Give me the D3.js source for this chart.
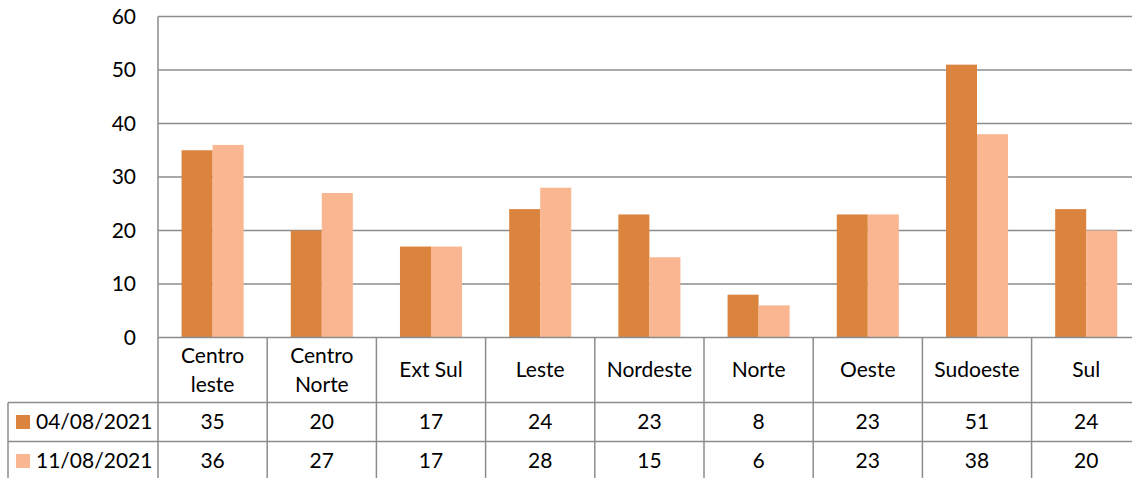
<!DOCTYPE html>
<html>
<head>
<meta charset="utf-8">
<script src="https://cdn.jsdelivr.net/npm/d3@7"></script>
<style>
  html, body { margin: 0; padding: 0; background: #fff; }
  svg { display: block; font-family: Lato, "Open Sans", sans-serif; }
</style>
</head>
<body>
<div id="chart"></div>
<script>
const categories = [["Centro", "leste"], ["Centro", "Norte"], ["Ext Sul"], ["Leste"], ["Nordeste"], ["Norte"], ["Oeste"], ["Sudoeste"], ["Sul"]];
const seriesNames = ["04/08/2021", "11/08/2021"];
const values0408 = [35, 20, 17, 24, 23, 8, 23, 51, 24];
const values1108 = [36, 27, 17, 28, 15, 6, 23, 38, 20];
const yTicks = [0, 10, 20, 30, 40, 50, 60];
const colors = ["#DA843E", "#F9B690"];

const width = 1132, height = 478;
const plotLeft = 158, plotTop = 16.5, zeroY = 337.5;
const catW = 109.2;
const rowH = [65, 39, 39];
const gridColor = "#8c8c8c";

const svg = d3.select("#chart").append("svg")
    .attr("width", width)
    .attr("height", height);

const keys = categories.map(c => c.join(" "));
const series = [values0408, values1108];

const x = d3.scaleBand()
    .domain(keys)
    .range([plotLeft, plotLeft + catW * keys.length])
    .paddingInner(0).paddingOuter(0);

const xs = d3.scaleBand()
    .domain(seriesNames)
    .range([0, x.bandwidth()])
    .paddingInner(0).paddingOuter(0.76);

const y = d3.scaleLinear().domain([0, 60]).range([zeroY, plotTop]);

// Gridlines
svg.append("g").selectAll("line")
    .data(yTicks.filter(t => t > 0))
    .enter().append("line")
    .attr("x1", plotLeft).attr("x2", width)
    .attr("y1", d => y(d)).attr("y2", d => y(d))
    .style("stroke", gridColor).style("stroke-width", 1.5);

// Y tick labels
svg.append("g").selectAll("text")
    .data(yTicks)
    .enter().append("text")
    .attr("x", 136)
    .attr("y", d => y(d))
    .attr("dy", "0.35em")
    .attr("text-anchor", "end")
    .style("font-size", "21px")
    .style("fill", "#000")
    .text(d => d);

// Bars
seriesNames.forEach((name, si) => {
    svg.append("g").selectAll("rect")
        .data(series[si])
        .enter().append("rect")
        .attr("x", (d, i) => x(keys[i]) + xs(name))
        .attr("width", xs.bandwidth())
        .attr("y", d => y(d))
        .attr("height", d => zeroY - y(d))
        .style("fill", colors[si]);
});

// Data table
const rowTop = [zeroY, zeroY + rowH[0], zeroY + rowH[0] + rowH[1]];
const tableBottom = height + 5;
const lines = svg.append("g").style("stroke", gridColor).style("stroke-width", 1.5);

// left axis line through the plot and table
lines.append("line").attr("x1", plotLeft).attr("x2", plotLeft).attr("y1", plotTop).attr("y2", tableBottom);
// horizontal rows
lines.append("line").attr("x1", plotLeft).attr("x2", width).attr("y1", rowTop[0]).attr("y2", rowTop[0]);
lines.append("line").attr("x1", 8).attr("x2", width).attr("y1", rowTop[1]).attr("y2", rowTop[1]);
lines.append("line").attr("x1", 8).attr("x2", width).attr("y1", rowTop[2]).attr("y2", rowTop[2]);
// legend column left border
lines.append("line").attr("x1", 8).attr("x2", 8).attr("y1", rowTop[1]).attr("y2", tableBottom);
// category separators
lines.selectAll(".sep")
    .data(keys)
    .enter().append("line")
    .attr("x1", d => x(d) + x.bandwidth())
    .attr("x2", d => x(d) + x.bandwidth())
    .attr("y1", rowTop[0]).attr("y2", tableBottom);

// Category labels
const catLabels = svg.append("g").selectAll("text")
    .data(categories)
    .enter().append("text")
    .attr("text-anchor", "middle")
    .style("font-size", "21px")
    .style("fill", "#000")
    .attr("x", (d, i) => x(keys[i]) + x.bandwidth() / 2)
    .attr("y", d => rowTop[0] + rowH[0] / 2 - (d.length - 1) * 14.5);

catLabels.selectAll("tspan")
    .data(d => d)
    .enter().append("tspan")
    .attr("x", function () { return this.parentNode.getAttribute("x"); })
    .attr("dy", (d, i) => i === 0 ? "0.35em" : 29)
    .text(d => d);

// Series rows
seriesNames.forEach((name, si) => {
    const cy = rowTop[si + 1] + rowH[si + 1] / 2;
    svg.append("rect")
        .attr("x", 16).attr("y", cy - 7)
        .attr("width", 14).attr("height", 14)
        .style("fill", colors[si]);
    svg.append("text")
        .attr("x", 36).attr("y", cy)
        .attr("dy", "0.35em")
        .style("font-size", "21px")
        .style("fill", "#000")
        .text(name);
    svg.append("g").selectAll("text")
        .data(series[si])
        .enter().append("text")
        .attr("x", (d, i) => x(keys[i]) + x.bandwidth() / 2)
        .attr("y", cy)
        .attr("dy", "0.35em")
        .attr("text-anchor", "middle")
        .style("font-size", "21px")
        .style("fill", "#000")
        .text(d => d);
});
</script>
</body>
</html>
